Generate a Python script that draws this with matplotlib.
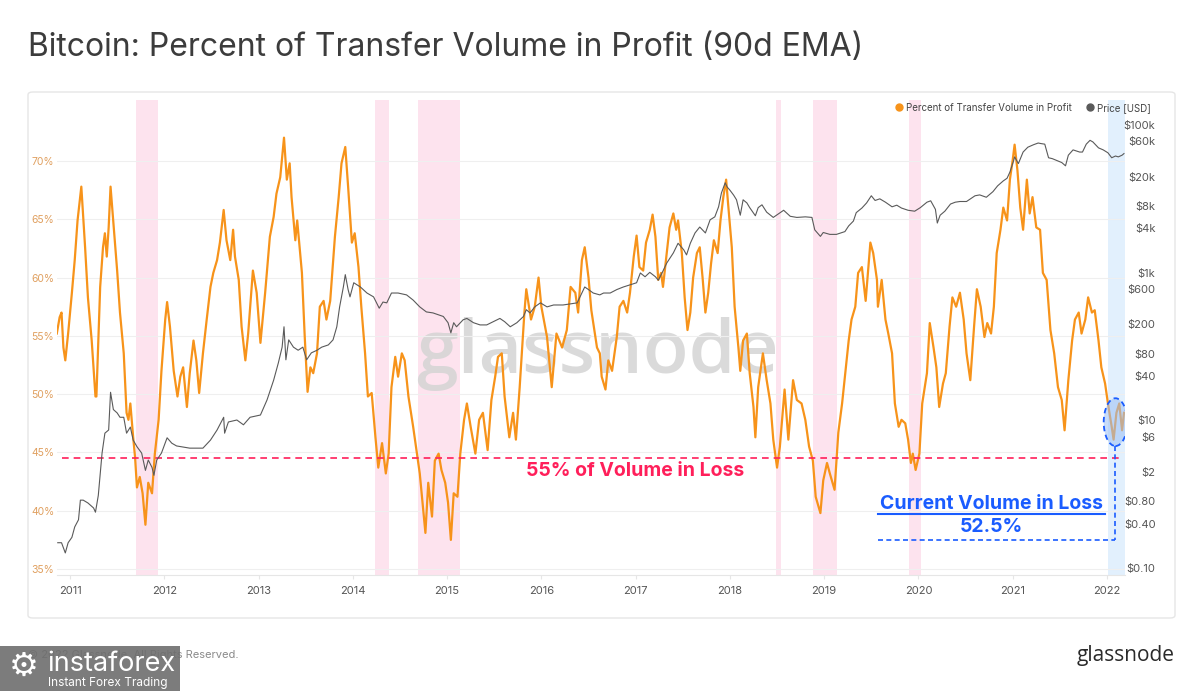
import matplotlib
matplotlib.use("Agg")
import matplotlib.pyplot as plt
from matplotlib.patches import FancyBboxPatch, Ellipse, Rectangle
from matplotlib.lines import Line2D

plt.rcParams["font.family"] = ["Inter", "DejaVu Sans"]

# Percent of transfer volume in profit (90d EMA), decimal year -> %
profit_t = [2010.86, 2010.89, 2010.91, 2010.93, 2010.95, 2010.98, 2011.02, 2011.05, 2011.08, 2011.12,
            2011.16, 2011.19, 2011.23, 2011.27, 2011.28, 2011.32, 2011.35, 2011.37, 2011.39, 2011.41,
            2011.43, 2011.46, 2011.50, 2011.53, 2011.57, 2011.60, 2011.62, 2011.64, 2011.67, 2011.69,
            2011.71, 2011.74, 2011.77, 2011.80, 2011.83, 2011.87, 2011.90, 2011.94, 2011.97, 2012.01,
            2012.03, 2012.06, 2012.10, 2012.14, 2012.17, 2012.20, 2012.24, 2012.27, 2012.31, 2012.34,
            2012.37, 2012.41, 2012.45, 2012.49, 2012.52, 2012.56, 2012.59, 2012.63, 2012.66, 2012.70,
            2012.73, 2012.75, 2012.79, 2012.82, 2012.86, 2012.89, 2012.94, 2012.98, 2013.02, 2013.07,
            2013.12, 2013.16, 2013.19, 2013.23, 2013.27, 2013.30, 2013.33, 2013.35, 2013.39, 2013.41,
            2013.46, 2013.49, 2013.52, 2013.55, 2013.58, 2013.62, 2013.65, 2013.69, 2013.72, 2013.76,
            2013.81, 2013.85, 2013.88, 2013.92, 2013.95, 2013.99, 2014.02, 2014.06, 2014.09, 2014.13,
            2014.16, 2014.20, 2014.24, 2014.27, 2014.31, 2014.35, 2014.38, 2014.41, 2014.45, 2014.48,
            2014.52, 2014.55, 2014.59, 2014.64, 2014.68, 2014.71, 2014.75, 2014.77, 2014.80, 2014.84,
            2014.87, 2014.91, 2014.94, 2014.98, 2015.01, 2015.04, 2015.07, 2015.11, 2015.14, 2015.18,
            2015.21, 2015.25, 2015.30, 2015.34, 2015.38, 2015.43, 2015.47, 2015.51, 2015.54, 2015.58,
            2015.61, 2015.66, 2015.70, 2015.73, 2015.77, 2015.82, 2015.84, 2015.89, 2015.93, 2015.97,
            2016.00, 2016.06, 2016.11, 2016.16, 2016.22, 2016.27, 2016.31, 2016.36, 2016.39, 2016.43,
            2016.46, 2016.50, 2016.53, 2016.59, 2016.62, 2016.64, 2016.68, 2016.71, 2016.75, 2016.80,
            2016.83, 2016.87, 2016.91, 2016.94, 2016.98, 2017.01, 2017.04, 2017.08, 2017.11, 2017.15,
            2017.18, 2017.21, 2017.24, 2017.27, 2017.29, 2017.33, 2017.36, 2017.40, 2017.43, 2017.45,
            2017.49, 2017.52, 2017.55, 2017.58, 2017.61, 2017.65, 2017.68, 2017.71, 2017.74, 2017.77,
            2017.80, 2017.83, 2017.87, 2017.90, 2017.93, 2017.96, 2017.98, 2018.02, 2018.05, 2018.09,
            2018.11, 2018.14, 2018.18, 2018.21, 2018.25, 2018.27, 2018.30, 2018.35, 2018.39, 2018.43,
            2018.46, 2018.50, 2018.53, 2018.58, 2018.62, 2018.67, 2018.71, 2018.76, 2018.80, 2018.84,
            2018.88, 2018.91, 2018.96, 2018.99, 2019.03, 2019.06, 2019.11, 2019.15, 2019.19, 2019.22,
            2019.26, 2019.29, 2019.33, 2019.36, 2019.40, 2019.44, 2019.49, 2019.52, 2019.56, 2019.57,
            2019.61, 2019.65, 2019.68, 2019.72, 2019.75, 2019.79, 2019.82, 2019.86, 2019.89, 2019.92,
            2019.94, 2019.97, 2020.01, 2020.04, 2020.09, 2020.12, 2020.16, 2020.19, 2020.22, 2020.26,
            2020.29, 2020.33, 2020.36, 2020.40, 2020.44, 2020.48, 2020.51, 2020.55, 2020.59, 2020.62,
            2020.66, 2020.70, 2020.73, 2020.77, 2020.80, 2020.83, 2020.87, 2020.90, 2020.94, 2020.97,
            2021.00, 2021.02, 2021.05, 2021.08, 2021.11, 2021.15, 2021.18, 2021.21, 2021.25, 2021.29,
            2021.32, 2021.36, 2021.40, 2021.44, 2021.48, 2021.52, 2021.55, 2021.59, 2021.63, 2021.66,
            2021.70, 2021.73, 2021.77, 2021.80, 2021.84, 2021.87, 2021.91, 2021.94, 2021.98, 2022.01,
            2022.05, 2022.07, 2022.10, 2022.13, 2022.16, 2022.18]
profit_pct = [55.2, 56.6, 57.0, 54.0, 52.9, 55.2, 58.7, 61.5, 64.9, 67.8,
              62.6, 58.3, 54.6, 49.8, 49.8, 59.2, 62.6, 63.8, 61.8, 64.3,
              67.8, 64.7, 60.6, 57.0, 53.5, 48.4, 47.8, 49.2, 46.3, 44.6,
              42.0, 42.9, 41.5, 38.8, 42.4, 41.5, 44.9, 47.8, 52.0, 56.4,
              57.9, 55.8, 52.0, 49.8, 51.5, 52.3, 48.9, 51.8, 54.6, 52.9,
              50.1, 53.5, 56.4, 59.2, 60.4, 61.5, 63.0, 65.8, 63.2, 61.5,
              64.1, 61.8, 59.8, 55.8, 52.9, 55.2, 60.6, 58.7, 54.4, 58.7,
              63.5, 65.2, 67.2, 68.6, 72.0, 68.4, 69.8, 66.9, 63.2, 64.9,
              60.4, 54.9, 50.2, 52.3, 51.8, 53.5, 57.5, 58.0, 56.4, 58.0,
              63.5, 66.9, 69.8, 71.2, 67.8, 63.0, 63.8, 60.9, 57.5, 53.5,
              49.8, 50.1, 46.3, 43.7, 45.8, 43.2, 44.9, 50.6, 53.2, 51.5,
              53.5, 52.9, 49.8, 47.2, 44.9, 43.2, 39.8, 38.1, 42.4, 39.5,
              44.3, 44.9, 43.5, 42.4, 40.7, 37.5, 41.5, 41.2, 44.9, 47.8,
              49.2, 47.2, 44.9, 47.8, 48.4, 45.2, 49.5, 51.5, 53.2, 53.5,
              49.8, 46.3, 48.4, 46.1, 50.6, 57.0, 59.0, 56.4, 57.5, 60.0,
              57.5, 54.9, 50.6, 55.2, 54.0, 55.5, 59.2, 58.7, 57.0, 61.5,
              62.6, 60.0, 57.2, 54.0, 53.5, 51.5, 50.4, 52.9, 52.0, 54.9,
              57.5, 58.0, 57.0, 58.7, 61.8, 63.6, 60.9, 60.6, 63.0, 64.1,
              65.4, 63.5, 59.8, 60.4, 59.2, 62.1, 64.3, 65.5, 64.1, 64.9,
              62.1, 58.3, 55.5, 57.0, 60.0, 62.1, 62.6, 60.0, 57.0, 58.7,
              61.2, 63.2, 62.1, 64.9, 66.9, 68.4, 66.4, 62.6, 57.5, 54.0,
              52.0, 54.6, 55.2, 51.8, 48.9, 46.3, 50.6, 53.5, 51.2, 49.2,
              46.1, 43.7, 45.5, 50.4, 46.1, 51.2, 49.5, 49.2, 47.8, 45.5,
              44.3, 41.2, 39.8, 42.6, 44.1, 43.2, 41.8, 46.7, 49.2, 51.5,
              54.6, 56.4, 57.5, 60.4, 60.9, 58.0, 63.0, 62.1, 59.8, 57.5,
              59.8, 56.4, 55.2, 53.5, 49.2, 47.2, 47.8, 47.5, 46.1, 44.1,
              44.9, 43.5, 44.9, 49.2, 51.8, 56.1, 54.0, 52.3, 48.9, 50.9,
              51.8, 55.8, 58.3, 57.5, 58.7, 56.4, 53.5, 51.2, 55.8, 59.0,
              57.5, 54.9, 56.1, 55.2, 57.5, 62.1, 64.1, 66.0, 64.9, 68.4,
              70.1, 71.4, 69.2, 66.0, 64.1, 68.4, 65.5, 66.9, 64.3, 64.1,
              60.4, 59.8, 55.5, 53.5, 50.6, 49.5, 46.9, 51.2, 54.6, 56.4,
              57.0, 55.2, 56.4, 58.3, 57.0, 57.2, 54.6, 52.3, 50.9, 49.2,
              47.2, 46.1, 48.4, 49.2, 46.9, 48.4]

# BTC price [USD], decimal year -> price
price_t = [2010.87, 2010.91, 2010.95, 2010.98, 2011.02, 2011.05, 2011.09, 2011.11, 2011.14, 2011.19,
           2011.25, 2011.27, 2011.30, 2011.34, 2011.37, 2011.41, 2011.43, 2011.46, 2011.50, 2011.53,
           2011.57, 2011.60, 2011.64, 2011.67, 2011.71, 2011.76, 2011.80, 2011.83, 2011.87, 2011.89,
           2011.92, 2011.97, 2012.03, 2012.08, 2012.13, 2012.27, 2012.41, 2012.49, 2012.56, 2012.63,
           2012.64, 2012.68, 2012.77, 2012.84, 2012.91, 2013.02, 2013.09, 2013.16, 2013.21, 2013.25,
           2013.27, 2013.29, 2013.32, 2013.37, 2013.42, 2013.47, 2013.51, 2013.56, 2013.62, 2013.67,
           2013.74, 2013.79, 2013.83, 2013.86, 2013.90, 2013.92, 2013.95, 2013.97, 2014.01, 2014.08,
           2014.15, 2014.22, 2014.28, 2014.32, 2014.36, 2014.41, 2014.48, 2014.57, 2014.64, 2014.71,
           2014.78, 2014.85, 2014.96, 2015.01, 2015.04, 2015.07, 2015.10, 2015.17, 2015.21, 2015.28,
           2015.35, 2015.42, 2015.49, 2015.56, 2015.61, 2015.67, 2015.74, 2015.81, 2015.84, 2015.88,
           2015.93, 2015.99, 2016.06, 2016.13, 2016.23, 2016.38, 2016.43, 2016.46, 2016.50, 2016.55,
           2016.62, 2016.66, 2016.73, 2016.80, 2016.87, 2016.94, 2017.01, 2017.05, 2017.10, 2017.15,
           2017.21, 2017.24, 2017.28, 2017.33, 2017.40, 2017.45, 2017.51, 2017.54, 2017.58, 2017.63,
           2017.68, 2017.74, 2017.79, 2017.84, 2017.88, 2017.91, 2017.95, 2017.97, 2018.00, 2018.04,
           2018.07, 2018.11, 2018.14, 2018.18, 2018.21, 2018.27, 2018.30, 2018.34, 2018.39, 2018.46,
           2018.57, 2018.64, 2018.71, 2018.80, 2018.87, 2018.90, 2018.96, 2018.99, 2019.06, 2019.13,
           2019.22, 2019.26, 2019.31, 2019.34, 2019.40, 2019.45, 2019.50, 2019.54, 2019.59, 2019.65,
           2019.72, 2019.77, 2019.82, 2019.89, 2019.96, 2020.02, 2020.09, 2020.13, 2020.18, 2020.20,
           2020.23, 2020.28, 2020.34, 2020.39, 2020.44, 2020.51, 2020.60, 2020.65, 2020.72, 2020.79,
           2020.84, 2020.90, 2020.94, 2020.97, 2021.01, 2021.02, 2021.06, 2021.11, 2021.16, 2021.22,
           2021.27, 2021.30, 2021.34, 2021.38, 2021.42, 2021.47, 2021.52, 2021.56, 2021.59, 2021.64,
           2021.71, 2021.74, 2021.78, 2021.82, 2021.85, 2021.91, 2021.96, 2022.01, 2022.05, 2022.09,
           2022.12, 2022.16, 2022.18]
price_usd = [0.22, 0.22, 0.16, 0.22, 0.26, 0.36, 0.45, 0.83, 0.83, 0.76,
             0.65, 0.57, 0.96, 3.6, 6.7, 7.4, 24, 14, 12.6, 11,
             11, 6.7, 8.1, 5.4, 4.4, 3.6, 2.1, 2.9, 2.3, 1.8,
             2.9, 3.6, 5.8, 4.9, 4.5, 4.2, 4.2, 5.4, 7.4, 11,
             6.7, 9.5, 10.1, 8.7, 11, 11.8, 18.9, 35, 60, 98,
             185, 66, 123, 98, 89, 98, 66, 82, 89, 98,
             105, 123, 185, 344, 644, 940, 590, 470, 730, 640,
             530, 470, 330, 400, 390, 530, 530, 500, 425, 344,
             294, 285, 255, 210, 153, 210, 185, 230, 240, 210,
             196, 196, 217, 240, 217, 185, 210, 255, 315, 285,
             344, 390, 344, 365, 365, 390, 530, 640, 590, 530,
             500, 530, 530, 590, 640, 684, 730, 990, 880, 1010,
             880, 790, 990, 1350, 1850, 2500, 2040, 1740, 2500, 3450,
             4150, 3450, 5200, 5700, 7800, 12000, 16500, 14500, 13100, 11200,
             9700, 6000, 9700, 8800, 7600, 5900, 7600, 8300, 6600, 5600,
             7000, 5800, 5600, 5700, 5600, 3800, 3100, 3500, 3300, 3300,
             3600, 4300, 5000, 6500, 7500, 8800, 11000, 9500, 10000, 9000,
             7800, 8200, 7500, 7000, 6800, 7600, 9000, 9400, 7200, 4700,
             6000, 6800, 8500, 9000, 9200, 9200, 11000, 11300, 10500, 12500,
             15000, 17500, 19000, 23000, 33000, 37000, 30000, 43000, 50000, 54000,
             57000, 56000, 55000, 36000, 35000, 33000, 31000, 28000, 39000, 46000,
             43000, 43000, 55000, 62000, 59000, 49000, 46000, 42000, 36000, 38000,
             37000, 39000, 41000]

pct_ticks = [35, 40, 45, 50, 55, 60, 65, 70]
price_ticks = [0.1, 0.4, 0.8, 2, 6, 10, 40, 80, 200, 600, 1000, 4000, 8000, 20000, 60000, 100000]
price_tick_labels = ["$0.10", "$0.40", "$0.80", "$2", "$6", "$10", "$40", "$80", "$200", "$600",
                     "$1k", "$4k", "$8k", "$20k", "$60k", "$100k"]
year_ticks = list(range(2011, 2023))

# capitulation periods (pink) and current period (blue)
loss_periods = [(2011.70, 2011.93), (2014.23, 2014.38), (2014.69, 2015.14),
                (2018.49, 2018.54), (2018.88, 2019.14), (2019.90, 2020.03)]
current_period = (2022.01, 2022.19)
loss_level = 44.52
current_mark = (2022.09, 47.6)
box_left = 2019.57
box_right = 2021.98
box_level = 37.49

ORANGE = "#f7931a"
GREY = "#5a5a5a"
PINK = "#ff1f5a"
BLUE = "#1a5cff"

fig = plt.figure(figsize=(12, 6.91), dpi=100)
fig.patch.set_facecolor("white")

panel = FancyBboxPatch((28 / 1200, 1 - 618 / 691), (1175 - 28) / 1200, (618 - 92) / 691,
                       boxstyle="round,pad=0,rounding_size=0.004", transform=fig.transFigure,
                       facecolor="white", edgecolor="#e6e6e6", lw=1, zorder=-5)
fig.patches.append(panel)

ax = fig.add_axes([57 / 1200, 1 - 575 / 691, (1125 - 57) / 1200, (575 - 100) / 691])
ax.patch.set_alpha(0)
ax.set_xlim(2010.862, 2022.191)
ax.set_ylim(34.49, 75.23)

for a, b in loss_periods:
    ax.axvspan(a, b, color="#fde3ee", lw=0, zorder=0.5)
ax.axvspan(*current_period, color="#e2f0fd", lw=0, zorder=0.5)

ax.text(0.506, 0.465, "glassnode", transform=ax.transAxes, fontsize=54, color="#d4d4d4",
        ha="center", va="center", alpha=0.85, zorder=1, family="Open Sans", fontweight="semibold")

ax.plot(profit_t, profit_pct, color=ORANGE, lw=1.6, zorder=3)

ax.set_yticks(pct_ticks)
ax.set_yticklabels([f"{v}%" for v in pct_ticks])
ax.set_xticks(year_ticks)
ax.set_xticklabels([str(y) for y in year_ticks])
ax.tick_params(axis="y", length=0, pad=2, labelsize=7.5, labelcolor="#e0a060")
ax.tick_params(axis="x", length=3, color="#e6e6e6", pad=5, labelsize=8, labelcolor="#555555")
ax.grid(axis="y", color="#efefef", lw=0.8, zorder=0)
for side in ["top", "right", "left"]:
    ax.spines[side].set_visible(False)
ax.spines["bottom"].set_color("#e6e6e6")

ax.axhline(loss_level, xmin=0.005, xmax=0.995, color=PINK, lw=1.2, ls=(0, (4, 3)), zorder=4)
ax.text(2016.99, 43.45, "55% of Volume in Loss", color=PINK, fontsize=14,
        fontweight="bold", ha="center", va="center", zorder=5)

ax.add_patch(Ellipse(current_mark, 0.25, 4.1, facecolor="#9cc0f5", alpha=0.55, edgecolor="none", zorder=4))
ax.add_patch(Ellipse(current_mark, 0.25, 4.1, facecolor="none", edgecolor=BLUE, lw=1.3,
                     ls=(0, (3, 2)), zorder=5))
ax.plot([current_mark[0], current_mark[0]], [current_mark[1] - 2.05, box_level],
        color=BLUE, lw=1.2, ls=(0, (3, 2)), zorder=5)
ax.plot([box_left, current_mark[0]], [box_level, box_level], color=BLUE, lw=1.2,
        ls=(0, (3, 2)), zorder=5)
ax.text((box_left + box_right) / 2, 40.6, "Current Volume in Loss", color=BLUE, fontsize=14,
        fontweight="bold", ha="center", va="center", zorder=5)
ax.plot([box_left, box_right], [39.7, 39.7], color=BLUE, lw=1.5, zorder=5)
ax.text((box_left + box_right) / 2, 38.6, "52.5%", color=BLUE, fontsize=14, fontweight="bold",
        ha="center", va="center", zorder=5)

ax2 = ax.twinx()
ax2.set_yscale("log")
ax2.set_ylim(0.0804, 218000)
ax2.plot(price_t, price_usd, color=GREY, lw=0.8, zorder=3)
ax2.set_yticks(price_ticks)
ax2.set_yticklabels(price_tick_labels)
ax2.yaxis.set_minor_locator(plt.NullLocator())
ax2.tick_params(axis="y", length=0, pad=22, labelsize=8, labelcolor="#555555")
for lbl in ax2.get_yticklabels():
    lbl.set_horizontalalignment("right")
for side in ["top", "right", "left", "bottom"]:
    ax2.spines[side].set_visible(False)

handles = [Line2D([], [], marker="o", ls="", color=ORANGE, markersize=5),
           Line2D([], [], marker="o", ls="", color=GREY, markersize=5)]
fig.legend(handles, ["Percent of Transfer Volume in Profit", "Price [USD]"], ncol=2,
           loc="upper right", bbox_to_anchor=(1160 / 1200, 1 - 94 / 691), frameon=False,
           fontsize=7, handletextpad=0.4, columnspacing=1.4, handlelength=0.8,
           labelcolor="#444444")

fig.text(28 / 1200, 1 - 47 / 691, "Bitcoin: Percent of Transfer Volume in Profit (90d EMA)",
         fontsize=23, color="#3c3c3c", ha="left", va="center")
fig.text(28 / 1200, 1 - 655 / 691, "© 2022 Glassnode. All Rights Reserved.", fontsize=8,
         color="#8a8a8a", ha="left", va="center")
fig.text(1175 / 1200, 1 - 656 / 691, "glassnode", fontsize=15, color="#2a2a2a",
         ha="right", va="center", family="Open Sans")

fig.patches.append(Rectangle((0, 0), 180 / 1200, 45 / 691, transform=fig.transFigure,
                             facecolor="#6e6e6e", edgecolor="none", alpha=0.9, zorder=5))
fig.text(24 / 1200, 1 - 666 / 691, "⚙", fontsize=24, color="white", ha="center", va="center",
         family="DejaVu Sans", zorder=6)
fig.text(47 / 1200, 1 - 664 / 691, "instaforex", fontsize=19.5, color="white", ha="left",
         va="center", zorder=6)
fig.text(48 / 1200, 1 - 683 / 691, "Instant Forex Trading", fontsize=8.5, color="white",
         ha="left", va="center", zorder=6)

fig.savefig("out.png", dpi=100, facecolor="white")
